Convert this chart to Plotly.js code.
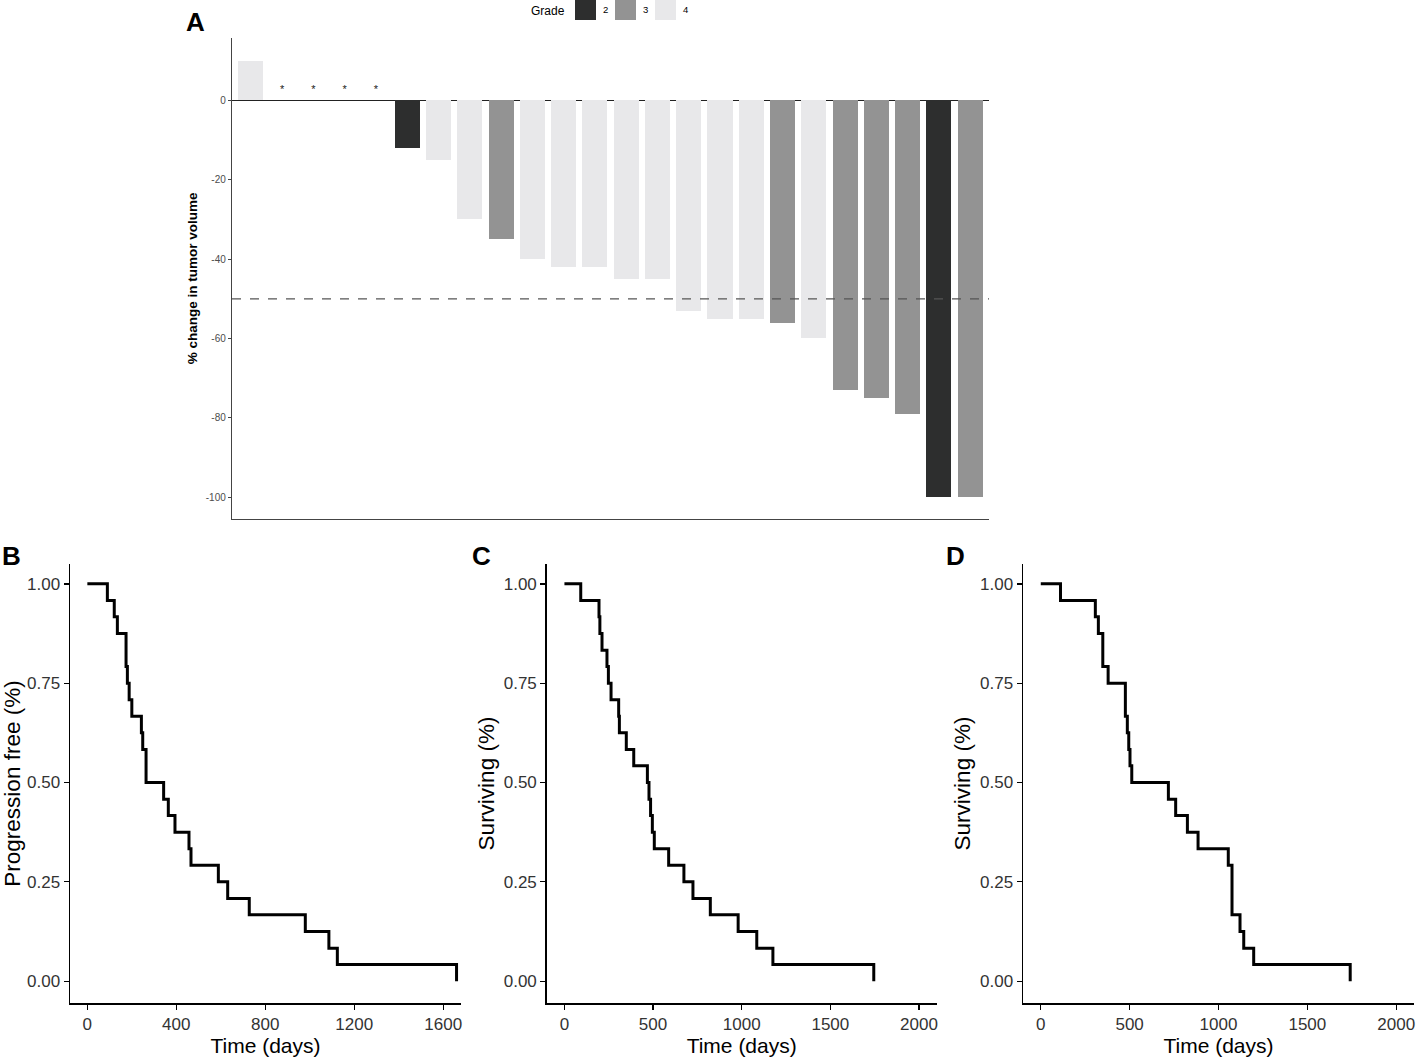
<!DOCTYPE html>
<html>
<head>
<meta charset="utf-8">
<script src="https://cdn.plot.ly/plotly-3.0.1.min.js"></script>
<style>
  html, body { margin: 0; padding: 0; background: #fff; }
  #fig { width: 1417px; height: 1058px; }
</style>
</head>
<body>
<div id="fig"></div>
<script>
// panel A: waterfall of tumour volume change
var patients = [1,2,3,4,5,6,7,8,9,10,11,12,13,14,15,16,17,18,19,20,21,22,23,24];
var volChange = [10,null,null,null,null,-12,-15,-30,-35,-40,-42,-42,-45,-45,-53,-55,-55,-56,-60,-73,-75,-79,-100,-100];
var grade = [4,null,null,null,null,2,4,4,3,4,4,4,4,4,4,4,4,3,4,3,3,3,2,3];
var notEvaluable = [2,3,4,5];
var gradeLevels = [2,3,4];
var gradeColors = {2: "#2d2e2e", 3: "#939393", 4: "#e8e8ea"};
var volTicks = [0, -20, -40, -60, -80, -100];
var volTickText = ["0", "-20", "-40", "-60", "-80", "-100"];

// panel B: progression free
var pfsDays = [0,90,121,135,174,180,188,200,243,249,264,343,364,394,457,466,589,631,728,980,1086,1124,1660];
var pfsSurv = [1,0.958,0.917,0.875,0.792,0.750,0.708,0.667,0.625,0.583,0.500,0.458,0.417,0.375,0.333,0.292,0.250,0.208,0.167,0.125,0.083,0.042,0];

// panel C: overall survival
var osDays = [0,92,195,200,212,240,248,263,306,310,349,391,468,477,486,496,507,588,674,725,823,980,1085,1176,1745];
var osSurv = [1,0.958,0.917,0.875,0.833,0.792,0.750,0.708,0.667,0.625,0.583,0.542,0.500,0.458,0.417,0.375,0.333,0.292,0.250,0.208,0.167,0.125,0.083,0.042,0];

// panel D: survival
var os2Days = [0,111,307,324,349,379,476,487,495,502,512,718,759,825,885,1055,1076,1121,1142,1198,1741];
var os2Surv = [1,0.958,0.917,0.875,0.792,0.750,0.667,0.625,0.583,0.542,0.500,0.458,0.417,0.375,0.333,0.292,0.167,0.125,0.083,0.042,0];

var FONT = "Liberation Sans, Arial, sans-serif";
var W = 1417, H = 1058;
function px(x) { return x / W; }
function py(y) { return 1 - y / H; }

var barColors = grade.map(function (g) { return g ? gradeColors[g] : "rgba(0,0,0,0)"; });

var traces = [
  {
    type: "bar",
    x: patients,
    y: volChange,
    width: 0.8,
    marker: { color: barColors, line: { width: 0 } },
    xaxis: "x", yaxis: "y",
    hoverinfo: "x+y",
    showlegend: false
  },
  {
    type: "scatter",
    mode: "text",
    x: notEvaluable,
    y: notEvaluable.map(function () { return 2.5; }),
    text: notEvaluable.map(function () { return "*"; }),
    textfont: { family: FONT, size: 11, color: "#222" },
    xaxis: "x", yaxis: "y",
    showlegend: false
  }
];

function kmTrace(days, surv, ax) {
  return {
    type: "scatter",
    mode: "lines",
    x: days,
    y: surv,
    line: { shape: "hv", color: "#000", width: 3 },
    xaxis: "x" + ax, yaxis: "y" + ax,
    showlegend: false
  };
}
traces.push(kmTrace(pfsDays, pfsSurv, 2));
traces.push(kmTrace(osDays, osSurv, 3));
traces.push(kmTrace(os2Days, os2Surv, 4));

function kmX(domain, range, ticks, anchor) {
  return {
    domain: domain, range: range, anchor: anchor,
    tickvals: ticks, ticks: "outside", ticklen: 5, tickwidth: 1.3, tickcolor: "#000",
    showline: true, linecolor: "#000", linewidth: 1.5,
    showgrid: false, zeroline: false,
    tickfont: { family: FONT, size: 17, color: "#333" },
    title: { text: "Time (days)", font: { family: FONT, size: 21, color: "#000" }, standoff: 2 }
  };
}
function kmY(domain, title, anchor) {
  return {
    domain: domain, range: [-0.055, 1.05], anchor: anchor,
    tickvals: [0, 0.25, 0.5, 0.75, 1], tickformat: ".2f",
    ticks: "outside", ticklen: 5, tickwidth: 1.3, tickcolor: "#000",
    showline: true, linecolor: "#000", linewidth: 1.5,
    showgrid: false, zeroline: false,
    tickfont: { family: FONT, size: 17, color: "#333" },
    title: { text: title, font: { family: FONT, size: 22.5, color: "#000" }, standoff: 3 }
  };
}

var yDomKM = [py(1003), py(564)];

var layout = {
  width: W, height: H,
  margin: { l: 0, r: 0, t: 0, b: 0 },
  paper_bgcolor: "#fff", plot_bgcolor: "rgba(0,0,0,0)",
  font: { family: FONT },
  bargap: 0,
  xaxis: {
    domain: [px(232), px(989)], range: [0.4, 24.6], anchor: "y",
    showticklabels: false, ticks: "", showgrid: false, zeroline: false,
    showline: true, linecolor: "#444", linewidth: 1.2
  },
  yaxis: {
    domain: [py(518.7), py(38)], range: [-105.4, 15.7], anchor: "x",
    tickvals: volTicks, ticktext: volTickText,
    ticks: "outside", ticklen: 3, tickcolor: "#444", tickwidth: 1,
    tickfont: { family: FONT, size: 10, color: "#4d4d4d" },
    showline: true, linecolor: "#444", linewidth: 1.2, showgrid: false,
    zeroline: true, zerolinecolor: "#222", zerolinewidth: 1.2,
    title: { text: "<b>% change in tumor volume</b>", font: { family: FONT, size: 13.5, color: "#000" }, standoff: 5 }
  },
  xaxis2: kmX([px(70), px(461)], [-78, 1680], [0, 400, 800, 1200, 1600], "y2"),
  yaxis2: kmY(yDomKM, "Progression free (%)", "x2"),
  xaxis3: kmX([px(546.7), px(936.7)], [-100, 2100], [0, 500, 1000, 1500, 2000], "y3"),
  yaxis3: kmY(yDomKM, "Surviving (%)", "x3"),
  xaxis4: kmX([px(1023), px(1414)], [-100, 2100], [0, 500, 1000, 1500, 2000], "y4"),
  yaxis4: kmY(yDomKM, "Surviving (%)", "x4"),
  shapes: [
    {
      type: "line", xref: "x domain", yref: "y", x0: 0, x1: 1, y0: -50, y1: -50,
      line: { color: "#555", width: 1.2, dash: "dash" }
    }
  ],
  annotations: []
};

// panel letters
[["A", 195, 22], ["B", 11, 556], ["C", 481, 556], ["D", 955, 556]].forEach(function (p) {
  layout.annotations.push({
    text: "<b>" + p[0] + "</b>", xref: "paper", yref: "paper",
    x: px(p[1]), y: py(p[2]), xanchor: "center", yanchor: "middle",
    showarrow: false, font: { family: FONT, size: 26, color: "#000" }
  });
});

// grade legend on top
layout.annotations.push({
  text: "Grade", xref: "paper", yref: "paper", x: px(567), y: py(11),
  xanchor: "right", yanchor: "middle", showarrow: false,
  font: { family: FONT, size: 12, color: "#000" }
});
gradeLevels.forEach(function (g, i) {
  var x0 = 575 + i * 40;
  layout.shapes.push({
    type: "rect", xref: "paper", yref: "paper",
    x0: px(x0), x1: px(x0 + 21), y0: py(20), y1: py(0),
    fillcolor: gradeColors[g], line: { width: 0 }
  });
  layout.annotations.push({
    text: String(g), xref: "paper", yref: "paper", x: px(x0 + 26), y: py(10),
    xanchor: "left", yanchor: "middle", showarrow: false,
    font: { family: FONT, size: 9.5, color: "#000" }
  });
});

Plotly.newPlot("fig", traces, layout, { displayModeBar: false, staticPlot: true });
</script>
</body>
</html>
